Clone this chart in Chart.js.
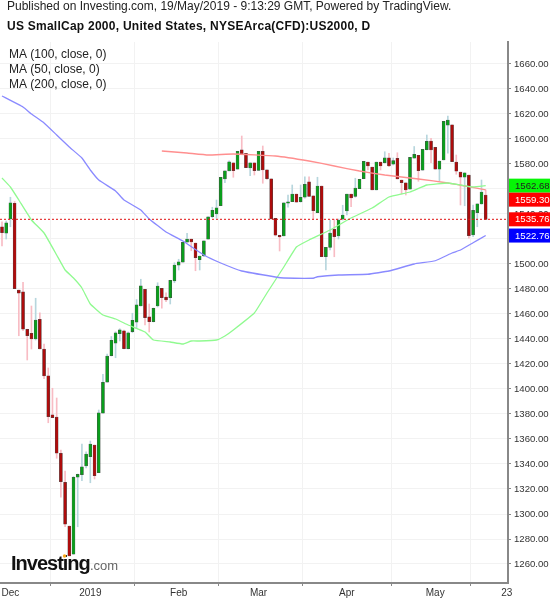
<!DOCTYPE html>
<html><head><meta charset="utf-8">
<style>html,body{margin:0;padding:0;background:#fff}canvas{display:block}</style>
<script src="https://cdn.jsdelivr.net/npm/chart.js@4/dist/chart.umd.min.js"></script>
</head><body><canvas id="c" width="550" height="598"></canvas>
<script>
const publishedText = "Published on Investing.com, 19/May/2019 - 9:13:29 GMT, Powered by TradingView.";
const titleText = "US SmallCap 2000, United States, NYSEArca(CFD):US2000, D";
const legendTexts = ["MA (100, close, 0)", "MA (50, close, 0)", "MA (200, close, 0)"];
const yTickValues = [1260,1280,1300,1320,1340,1360,1380,1400,1420,1440,1460,1480,1500,1520,1540,1560,1580,1600,1620,1640,1660];
const xTickIndex = [2,21,42,61,82,103,120];
const xTickLabels = ["Dec","2019","Feb","Mar","Apr","May","23"];

const opens = [1529.8,1524.6,1536,1548.6,1479.2,1477.8,1447.8,1444.6,1440,1455.8,1432,1410.6,1379.4,1377.6,1348.6,1325.4,1290.4,1267.8,1329.4,1331.4,1338.4,1345.8,1355.2,1333,1380.6,1405.4,1426.6,1436.6,1444.2,1446.6,1432.2,1445.8,1453.4,1466.4,1479.8,1457.8,1453.8,1466.4,1480.6,1473.6,1473,1486.4,1499,1501.4,1517.4,1520,1516.8,1503.4,1506.4,1519.8,1537.8,1540,1546.6,1568,1574.4,1581,1575.8,1591.4,1588.6,1576.8,1581,1574.8,1590.2,1575.4,1568.2,1536.6,1523,1522.4,1548.6,1549.8,1556,1549.8,1553.4,1565.8,1554.6,1541,1562.4,1505.8,1513.2,1527.8,1522.4,1535.8,1542.4,1556,1554,1560.2,1568.2,1581.6,1577.6,1559.2,1581.6,1581,1585,1579.8,1584.6,1567.2,1565,1559.8,1584.6,1587,1575,1591.4,1598.4,1593.4,1575.8,1583.2,1611,1611.4,1581.6,1573.6,1569.4,1571.2,1523.2,1541,1548,1555.2];
const closes = [1525,1533,1549,1480.2,1476.6,1447.8,1442.6,1440,1455.2,1432,1410.4,1377.8,1377,1348.6,1325.8,1291.8,1266.4,1329.4,1331.8,1337.8,1348,1356,1330.6,1381,1405.4,1426.4,1439,1445,1447.4,1432.2,1445,1455,1467.4,1482.6,1457,1453.8,1464.6,1482.4,1473,1471.2,1487,1499.2,1501.8,1517.4,1520,1517.6,1505,1506.4,1518.6,1537.8,1543,1545,1569.4,1574.6,1581.8,1574.6,1590.2,1588,1577,1581,1574.6,1590.2,1575.2,1568.2,1536,1523,1521.6,1549,1549.8,1556,1549.4,1553.4,1563.8,1554,1542.6,1562.4,1505.8,1513.4,1524.8,1521.8,1535.2,1539.2,1556,1552.8,1560.8,1567.8,1582.2,1578.4,1559.2,1581.6,1578.4,1585,1578.4,1582.8,1568,1565,1559.2,1585.4,1587.8,1574.6,1591.8,1598.2,1591.2,1575.8,1582.4,1614.2,1615.2,1581.8,1574.2,1569.4,1573,1522.6,1543,1548.2,1557.6,1535.76];
const highs = [1533.8,1534.4,1553.4,1550,1479.2,1485.4,1447.8,1466.4,1472.6,1461,1436,1416.8,1400.6,1392.8,1351.2,1334.4,1290.4,1330,1332,1356,1349.8,1358.4,1355.2,1383.2,1411.8,1428,1442,1445.8,1448.2,1447.2,1445.6,1460.6,1471.6,1487.8,1479.8,1468,1464.8,1485,1480.6,1477,1487,1501,1503.8,1517.6,1524.6,1520,1516.8,1506.4,1518.6,1537.8,1545.4,1551.2,1569.4,1574.6,1582.6,1581,1590.2,1602.4,1588.6,1581,1581,1590.2,1594.4,1575.4,1568.2,1536.6,1523,1549,1555.2,1563.2,1556,1563.2,1569.8,1569.8,1554.6,1569.4,1562.4,1513.4,1535.2,1535.8,1536,1547,1556,1556,1568.6,1567.8,1582.2,1581.6,1577.6,1581.6,1581.6,1589.8,1588.6,1584.8,1589,1567.2,1565,1585.4,1594,1587,1591.8,1603.2,1600.6,1593.4,1582.4,1614.2,1618.4,1611.4,1587.2,1573.6,1573,1571.2,1547.2,1548.2,1567.2,1559.2];
const lows = [1514.4,1520,1529.8,1480.2,1442.6,1446.6,1423.2,1432,1439.2,1432,1408.2,1373,1377,1344.6,1313.4,1289.8,1266.4,1267.8,1289.8,1326.6,1336.8,1325,1328,1333,1380.6,1405.4,1426.4,1425,1438.4,1432,1432,1445,1448.6,1466.4,1451.2,1445.6,1453.6,1465.6,1464.6,1469.8,1468,1485,1495.2,1501.4,1517.4,1510.6,1494.6,1495.2,1505.8,1519.8,1537,1536.6,1546.6,1565,1574.4,1569.4,1575.8,1588,1577,1570.6,1571.2,1574.8,1564.6,1567.6,1536,1522.4,1510.4,1522.4,1545.4,1549.8,1549.4,1549.4,1552.6,1554,1536,1541,1505.8,1495.2,1511.2,1505.8,1520,1535.2,1539.2,1545.8,1553.4,1560.2,1568.2,1575.2,1559.2,1559.2,1575.2,1580.6,1577.8,1579.2,1568,1556,1555.2,1559.8,1584.6,1566.2,1575,1591.2,1581,1575.8,1566.6,1583.2,1588.6,1581.8,1571.8,1547.2,1546.6,1520.6,1521.8,1529.8,1547.8,1535.76];

const ma100Index = [0,5,7,10,13,16,19,21,23,27,29,33,35,39,43,48,52,57,65,67,74,75,80,87,92,98,103,107,109,112,115];
const ma100Values = [1634.4,1625.6,1620,1612.8,1603.2,1593.6,1584.8,1575.2,1567.2,1558.4,1551.2,1543.2,1536,1525.6,1518.4,1507.2,1500.8,1494.4,1489.6,1488.8,1488.6,1489.8,1491.2,1491.8,1494.4,1500,1502.6,1508.8,1511.2,1517,1522.76];
const ma50Index = [0,2,4,7,10,13,15,17,19,21,24,27,30,34,36,40,43,45,47,51,53,55,60,63,67,70,73,78,83,88,92,97,101,106,109,112,115];
const ma50Values = [1568.8,1561.6,1551.2,1535.2,1524.8,1507.2,1495.2,1488.8,1480.8,1468,1459.2,1456,1451.2,1445.6,1439.2,1437.6,1436,1438.4,1438.4,1439.2,1442.4,1447.2,1460.8,1476.8,1497.6,1513.6,1519.2,1527.2,1536.8,1544.8,1553.6,1557.6,1563.2,1564.8,1563.2,1561.6,1562.68];
const ma200Index = [38,44,49,55,65,73,79,85,91,99,106,110,115];
const ma200Values = [1590.4,1588.8,1587.2,1588,1586.4,1582.4,1578.4,1574.4,1571.2,1568,1564.8,1562.4,1559.3];

const lastClose = 1535.76;
const badgeValues = [1562.68, 1559.30, 1535.76, 1522.76];
const badgeFills = ["#06f506","#ff0000","#ff0000","#0000ff"];
const badgeInks = ["#222222","#ffffff","#ffffff","#ffffff"];

const X0 = -0.4755, X1 = 120.3;
const idx = opens.map((_, i) => i);
const pts = (ix, v) => ix.map((x, i) => ({x, y: v[i]}));
const isUp = idx.map(i => closes[i] >= opens[i]);
const FONT = '"Liberation Sans", Arial, sans-serif';

const textPlugin = {
  id: 'texts',
  afterDraw(chart) {
    const c = chart.ctx, y = chart.scales.y, area = chart.chartArea;
    c.save();
    c.textBaseline = 'middle'; c.textAlign = 'left';
    c.fillStyle = '#222';
    c.font = '12px ' + FONT;
    c.fillText(publishedText, 7, 6.5);
    c.font = 'bold 12px ' + FONT;
    c.letterSpacing = '0.25px';
    c.fillStyle = '#111';
    c.fillText(titleText, 7, 26.5);
    c.letterSpacing = '0px';
    c.font = '12px ' + FONT;
    c.fillStyle = '#222';
    legendTexts.forEach((t, i) => c.fillText(t, 9, 55 + i * 14.8));
    // price badges
    let prev = -99;
    badgeValues.forEach((v, i) => {
      let py = y.getPixelForValue(v);
      if (py - prev < 14) py = prev + 14;
      prev = py;
      c.fillStyle = badgeFills[i];
      c.fillRect(area.right + 1, py - 7, 550 - area.right - 1, 14);
      c.fillStyle = badgeInks[i];
      c.font = '9.6px ' + FONT;
      c.fillText(v.toFixed(2), 515, py + 0.5);
    });
    // brand mark
    c.textBaseline = 'alphabetic';
    c.fillStyle = '#111';
    c.font = 'bold 20px ' + FONT;
    c.letterSpacing = '-1px';
    c.fillText('Investing', 11, 570);
    c.fillStyle = '#666';
    c.font = '13px ' + FONT;
    c.letterSpacing = '0px';
    c.fillText('.com', 90, 570);
    c.fillStyle = '#f7a81b';
    c.beginPath(); c.arc(64.5, 556, 1.7, 0, 7); c.fill();
    c.restore();
  }
};

new Chart(document.getElementById('c'), {
  data: { datasets: [
    { type:'line', order:0, data:[{x:X0,y:lastClose},{x:X1,y:lastClose}], borderColor:'#e01010', borderWidth:1, borderDash:[2,2], pointRadius:0 },
    { type:'line', order:1, data:pts(ma100Index,ma100Values), borderColor:'#8a8aff', borderWidth:1.3, pointRadius:0, tension:0.1 },
    { type:'line', order:1, data:pts(ma50Index,ma50Values), borderColor:'#90fa90', borderWidth:1.3, pointRadius:0, tension:0.1 },
    { type:'line', order:1, data:pts(ma200Index,ma200Values), borderColor:'#ff8f8f', borderWidth:1.3, pointRadius:0, tension:0.1 },
    { type:'bar', order:2, grouped:false, barThickness:3, data: idx.map(i => ({x:i, y:[opens[i], closes[i]]})),
      backgroundColor: idx.map(i => isUp[i] ? '#0a9e1c' : '#ad0c0c'),
      borderColor:'#4a4a4a', borderWidth:0.5, borderSkipped:false },
    { type:'bar', order:3, grouped:false, barThickness:1, data: idx.map(i => ({x:i, y:[lows[i], highs[i]]})),
      backgroundColor: idx.map(i => isUp[i] ? '#b7d6dd' : '#f8bcc4') }
  ]},
  options: {
    responsive:false, animation:false, events:[],
    layout:{ padding:{ top:42, left:0, right:0, bottom:0 } },
    plugins:{ legend:{display:false}, tooltip:{enabled:false}, title:{display:false} },
    scales:{
      x:{ type:'linear', min:X0, max:X1, offset:false,
        afterBuildTicks(a){ a.ticks = xTickIndex.map(v => ({value:v})); },
        afterFit(a){ a.height = 15; },
        grid:{ color:'#f2f2f2', tickColor:'#888', tickLength:3, drawOnChartArea:true },
        border:{ color:'#888', width:2 },
        ticks:{ autoSkip:false, maxRotation:0, padding:1, color:'#333', font:{family:FONT,size:10},
          callback(v){ const k = xTickIndex.indexOf(v); return k < 0 ? '' : xTickLabels[k]; } }
      },
      y:{ type:'linear', position:'right', min:1244.8, max:1677.6,
        afterBuildTicks(a){ a.ticks = yTickValues.map(v => ({value:v})); },
        afterFit(a){ a.width = 42; },
        grid:{ color:'#f2f2f2', tickColor:'#888', tickLength:3 },
        border:{ color:'#888', width:2 },
        ticks:{ autoSkip:false, padding:3, color:'#333', font:{family:FONT,size:9.6},
          callback(v){ return Number(v).toFixed(2); } }
      }
    }
  },
  plugins:[textPlugin]
});
</script></body></html>
